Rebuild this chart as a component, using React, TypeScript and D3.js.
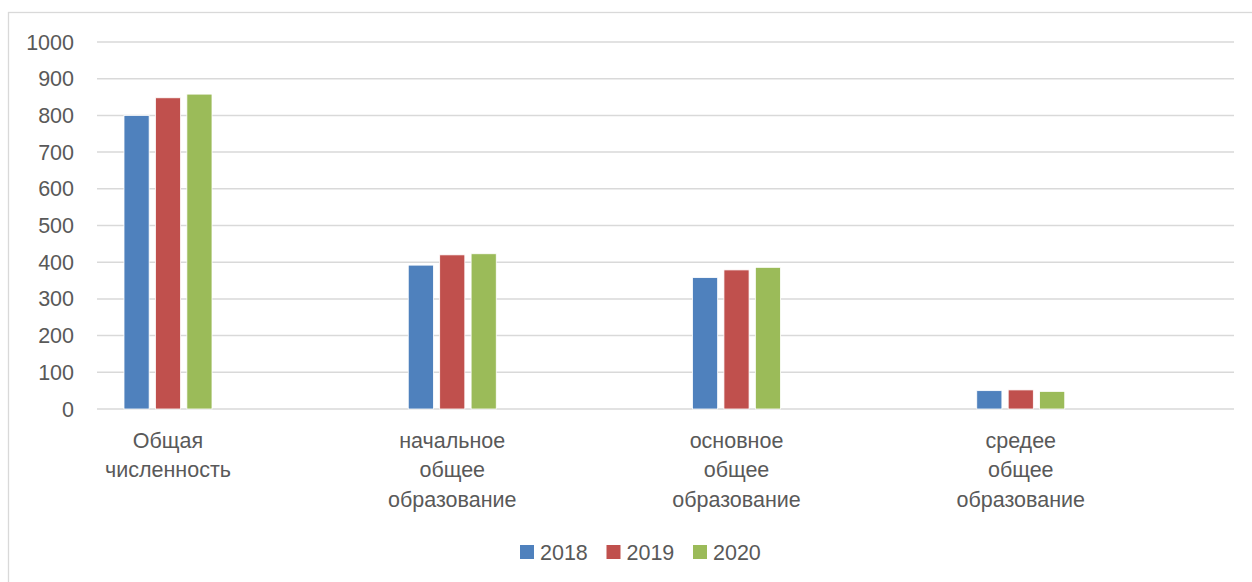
import React from "react";
import * as d3 from "d3";

const categories = ["Общая численность", "начальное общее образование", "основное общее образование", "средее общее образование"];
const seriesNames = ["2018", "2019", "2020"];
const values2018 = [800, 392, 358, 50];
const values2019 = [848, 420, 379, 52];
const values2020 = [858, 423, 386, 48];
const yTicks = [0, 100, 200, 300, 400, 500, 600, 700, 800, 900, 1000];
const colors = ["#4F81BD", "#C0504D", "#9BBB59"];

const W = 1252;
const H = 582;
const FONT = "'Liberation Sans', Arial, sans-serif";
const FS = 21.5;

export default function App() {
  const seriesValues = [values2018, values2019, values2020];
  const left = 97, right = 1234, top = 42, bottom = 409;
  const x0 = d3.scaleBand<string>().domain(categories).range([left, right]).paddingInner(0).paddingOuter(0);
  const x1 = d3.scaleBand<string>().domain(seriesNames).range([27, 115]).paddingInner(0.2).paddingOuter(0);
  const y = d3.scaleLinear().domain([0, 1000]).range([bottom, top]);
  const clusterCenter = (c: string) => (x0(c) ?? 0) + (27 + 115) / 2;

  return (
    <svg width={W} height={H} style={{ position: "absolute", left: 0, top: 0, background: "#fff" }} fontFamily={FONT}>
      <rect x={8.5} y={12.5} width={W + 20} height={H + 20} fill="#fff" stroke="#d9d9d9" strokeWidth={1.3} />
      {yTicks.map((t) => (
        <g key={t}>
          <line x1={left} x2={right} y1={y(t)} y2={y(t)} stroke="#d9d9d9" strokeWidth={1.5} />
          <text x={74} y={y(t)} dy="0.35em" textAnchor="end" fontSize={FS} fill="#595959">{t}</text>
        </g>
      ))}
      {categories.map((c, ci) => (
        <g key={c}>
          {seriesNames.map((s, si) => {
            const v = seriesValues[si][ci];
            const bx = (x0(c) ?? 0) + (x1(s) ?? 0);
            return (
              <rect key={s} x={bx} y={y(v)} width={x1.bandwidth()} height={y(0) - y(v)} fill={colors[si]} stroke="#fff" strokeWidth={0.8} />
            );
          })}
          {c.split(" ").map((w, li) => (
            <text key={li} x={clusterCenter(c)} y={440 + li * 29.5} dy="0.35em" textAnchor="middle" fontSize={FS} fill="#595959">{w}</text>
          ))}
        </g>
      ))}
      {seriesNames.map((s, si) => {
        const lx = 520 + si * 86.5;
        return (
          <g key={s}>
            <rect x={lx} y={545} width={14} height={14} fill={colors[si]} />
            <text x={lx + 20} y={552} dy="0.35em" fontSize={FS} fill="#595959">{s}</text>
          </g>
        );
      })}
    </svg>
  );
}
